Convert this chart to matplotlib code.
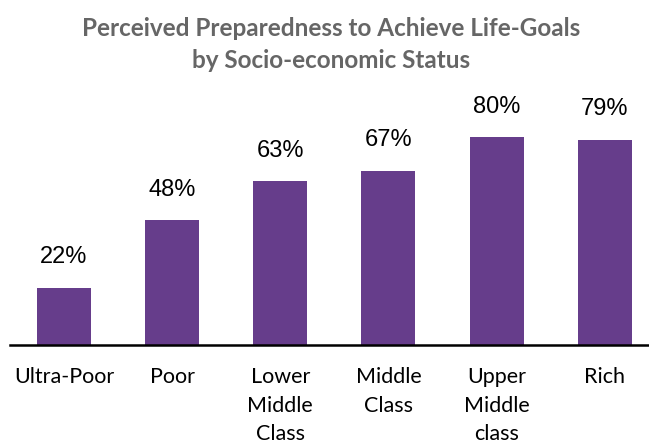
import matplotlib.pyplot as plt

categories = ["Ultra-Poor", "Poor", "Lower\nMiddle\nClass", "Middle\nClass",
              "Upper\nMiddle\nclass", "Rich"]
values = [22, 48, 63, 67, 80, 79]

BAR_COLOR = "#663D8B"

fig = plt.figure(figsize=(6.49, 4.44), dpi=100)
ax = fig.add_axes([10 / 649, 99 / 444, 1 - 10 / 649, 260 / 444])

x = range(len(categories))
bars = ax.bar(x, values, width=0.5, color=BAR_COLOR)
for b, v in zip(bars, values):
    ax.annotate(f"{v}%", (b.get_x() + b.get_width() / 2, v),
                xytext=(0, 14), textcoords="offset points",
                ha="center", va="bottom", fontsize=17,
                family="Liberation Sans", color="#000000")

ax.set_xlim(-0.5, 5.41)
ax.set_ylim(0, 100)
ax.set_xticks(list(x))
ax.set_xticklabels(categories, family="Lato", fontsize=15.5, linespacing=1.52,
                   va="top")
ax.tick_params(axis="x", length=0, pad=16)
ax.set_yticks([])
for s in ["top", "right", "left"]:
    ax.spines[s].set_visible(False)
ax.spines["bottom"].set_linewidth(1.8)
ax.spines["bottom"].set_color("#000000")

fig.text(0.51, 0.962, "Perceived Preparedness to Achieve Life-Goals\nby Socio-economic Status",
         ha="center", va="top", fontsize=17.5, fontweight="bold", family="Lato",
         color="#666666", linespacing=1.5)

fig.savefig("out.png", dpi=100)
